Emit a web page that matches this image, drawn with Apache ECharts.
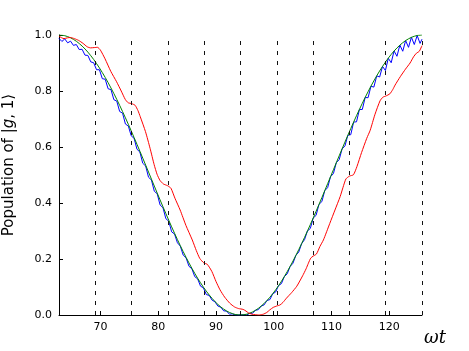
<!DOCTYPE html>
<html>
<head>
<meta charset="utf-8">
<script src="https://cdn.jsdelivr.net/npm/echarts@6/dist/echarts.min.js"></script>
<style>
  html, body { margin: 0; padding: 0; background: #fff; }
  #chart { width: 469px; height: 351px; }
</style>
</head>
<body>
<div id="chart"></div>
<script>
// x ticks and dashed marker positions
const xTicks = [70, 80, 90, 100, 110, 120];
const dashX = [69.115, 75.398, 81.681, 87.965, 94.248, 100.531, 106.814, 113.097, 119.381, 125.664];

// green curve (smooth)
const greenX = [62.83, 63.83, 64.83, 65.83, 66.83, 67.83, 68.83, 69.83, 70.83, 71.83,
  72.83, 73.83, 74.83, 75.83, 76.83, 77.83, 78.83, 79.83, 80.83, 81.83,
  82.83, 83.83, 84.83, 85.83, 86.83, 87.83, 88.83, 89.83, 90.83, 91.83,
  92.83, 93.83, 94.83, 95.83, 96.83, 97.83, 98.83, 99.83, 100.83, 101.83,
  102.83, 103.83, 104.83, 105.83, 106.83, 107.83, 108.83, 109.83, 110.83, 111.83,
  112.83, 113.83, 114.83, 115.83, 116.83, 117.83, 118.83, 119.83, 120.83, 121.83,
  122.83, 123.83, 124.83, 125.66];
const greenY = [1.000, 0.9975, 0.9900, 0.9777, 0.9605, 0.9388, 0.9127, 0.8824, 0.8484, 0.8108,
  0.7702, 0.7268, 0.6812, 0.6338, 0.5850, 0.5354, 0.4854, 0.4356, 0.3864, 0.3384,
  0.2919, 0.2476, 0.2058, 0.1669, 0.1313, 0.0994, 0.0716, 0.0480, 0.0289, 0.0145,
  0.0050, 0.0004, 0.0009, 0.0063, 0.0166, 0.0318, 0.0516, 0.0760, 0.1045, 0.1370,
  0.1732, 0.2126, 0.2549, 0.2996, 0.3463, 0.3946, 0.4439, 0.4938, 0.5438, 0.5933,
  0.6418, 0.6890, 0.7343, 0.7772, 0.8173, 0.8543, 0.8878, 0.9174, 0.9428, 0.9637,
  0.9801, 0.9916, 0.9983, 1.000];

// blue curve (fast wiggles)
const blueX = [62.83, 63.33, 63.83, 64.33, 64.83, 65.33, 65.83, 66.33, 66.83, 67.33,
  67.83, 68.33, 68.83, 69.33, 69.83, 70.33, 70.83, 71.33, 71.83, 72.33,
  72.83, 73.33, 73.83, 74.33, 74.83, 75.33, 75.83, 76.33, 76.83, 77.33,
  77.83, 78.33, 78.83, 79.33, 79.83, 80.33, 80.83, 81.33, 81.83, 82.33,
  82.83, 83.33, 83.83, 84.33, 84.83, 85.33, 85.83, 86.33, 86.83, 87.33,
  87.83, 88.33, 88.83, 89.33, 89.83, 90.33, 90.83, 91.33, 91.83, 92.33,
  92.83, 93.33, 93.83, 94.33, 94.83, 95.33, 95.83, 96.33, 96.83, 97.33,
  97.83, 98.33, 98.83, 99.33, 99.83, 100.33, 100.83, 101.33, 101.83, 102.33,
  102.83, 103.33, 103.83, 104.33, 104.83, 105.33, 105.83, 106.33, 106.83, 107.33,
  107.83, 108.33, 108.83, 109.33, 109.83, 110.33, 110.83, 111.33, 111.83, 112.33,
  112.83, 113.33, 113.83, 114.33, 114.83, 115.33, 115.83, 116.33, 116.83, 117.33,
  117.83, 118.33, 118.83, 119.33, 119.83, 120.33, 120.83, 121.33, 121.83, 122.33,
  122.83, 123.33, 123.83, 124.33, 124.83, 125.33, 125.66];
const blueY = [0.988, 0.977, 0.986, 0.972, 0.978, 0.963, 0.966, 0.948, 0.949, 0.928,
  0.927, 0.904, 0.901, 0.876, 0.876, 0.844, 0.842, 0.808, 0.805, 0.769,
  0.764, 0.727, 0.721, 0.682, 0.675, 0.640, 0.631, 0.592, 0.582, 0.542,
  0.532, 0.492, 0.482, 0.442, 0.433, 0.393, 0.383, 0.344, 0.335, 0.297,
  0.289, 0.258, 0.246, 0.214, 0.204, 0.174, 0.165, 0.137, 0.129, 0.103,
  0.097, 0.073, 0.070, 0.053, 0.047, 0.032, 0.028, 0.015, 0.014, 0.003,
  0.004, 0.000, 0.000, 0.000, 0.001, 0.000, 0.006, 0.006, 0.017, 0.019,
  0.032, 0.036, 0.052, 0.055, 0.076, 0.082, 0.105, 0.112, 0.137, 0.147,
  0.173, 0.185, 0.213, 0.225, 0.255, 0.269, 0.300, 0.309, 0.346, 0.356,
  0.395, 0.405, 0.444, 0.455, 0.494, 0.505, 0.544, 0.555, 0.593, 0.604,
  0.642, 0.644, 0.689, 0.690, 0.734, 0.734, 0.777, 0.776, 0.817, 0.814,
  0.854, 0.850, 0.888, 0.873, 0.917, 0.901, 0.943, 0.924, 0.964, 0.942,
  0.980, 0.956, 0.992, 0.966, 0.998, 0.970, 0.985];

// red curve (lagging, with plateaus)
const redX = [62.83, 63.3, 63.7, 64.3, 64.8, 65.5, 66.2, 67.0, 67.7, 68.3,
  68.9, 69.5, 70.0, 70.8, 71.8, 72.8, 73.6, 74.3, 74.8, 75.4,
  76.0, 76.5, 76.9, 77.8, 78.6, 79.3, 79.8, 80.3, 80.9, 81.6,
  82.2, 82.9, 83.8, 84.8, 85.9, 86.6, 87.2, 87.9, 88.5, 89.3,
  90.0, 90.7, 91.5, 92.4, 93.2, 93.9, 94.7, 95.2, 95.6, 96.2,
  96.8, 97.5, 98.2, 98.8, 99.3, 99.9, 100.5, 101.1, 101.6, 102.2,
  103.1, 104.0, 105.0, 105.6, 106.0, 106.4, 106.8, 107.4, 108.0, 108.6,
  109.7, 110.6, 111.5, 112.1, 112.5, 113.1, 113.8, 114.4, 115.2, 116.1,
  116.7, 117.5, 118.4, 118.9, 119.4, 120.1, 120.6, 121.0, 121.9, 122.8,
  123.6, 124.2, 124.7, 125.2, 125.66];
const redY = [0.996, 0.99, 0.987, 0.99, 0.991, 0.987, 0.981, 0.97, 0.958, 0.954,
  0.955, 0.956, 0.946, 0.915, 0.87, 0.833, 0.8, 0.77, 0.758, 0.755,
  0.749, 0.73, 0.708, 0.655, 0.595, 0.537, 0.503, 0.481, 0.468, 0.462,
  0.453, 0.417, 0.375, 0.32, 0.268, 0.23, 0.202, 0.186, 0.181, 0.155,
  0.12, 0.09, 0.064, 0.042, 0.029, 0.023, 0.02, 0.014, 0.008, 0.003,
  0.001, 0.0, 0.003, 0.009, 0.018, 0.027, 0.032, 0.036, 0.045, 0.06,
  0.08, 0.103, 0.14, 0.165, 0.185, 0.203, 0.21, 0.218, 0.245, 0.268,
  0.327, 0.375, 0.423, 0.463, 0.486, 0.496, 0.501, 0.53, 0.58, 0.631,
  0.66, 0.715, 0.765, 0.778, 0.782, 0.79, 0.805, 0.821, 0.851, 0.878,
  0.9, 0.922, 0.935, 0.942, 0.962];

function zip(xs, ys) {
  return xs.map((x, i) => [x, ys[i]]);
}

const chart = echarts.init(document.getElementById('chart'), null, { renderer: 'canvas' });

const lineBase = {
  type: 'line',
  showSymbol: false,
  symbol: 'none',
  silent: true,
  animation: false
};

chart.setOption({
  animation: false,
  backgroundColor: '#fff',
  textStyle: { fontFamily: 'DejaVu Sans' },
  grid: { left: 59, right: 47, top: 35, bottom: 36, containLabel: false, outerBoundsMode: 'none' },
  title: {
    text: 'ωt',
    left: 419,
    top: 324,
    textStyle: { fontFamily: 'DejaVu Serif', fontStyle: 'italic', fontWeight: 'normal', fontSize: 18, color: '#000' }
  },
  xAxis: {
    type: 'value',
    min: 62.832,
    max: 125.664,
    axisLine: { show: true, lineStyle: { color: '#000', width: 1 } },
    axisTick: { show: true, inside: true, length: 4, customValues: xTicks, lineStyle: { color: '#000' } },
    axisLabel: { customValues: xTicks, color: '#000', fontSize: 11, margin: 7, fontFamily: 'DejaVu Sans' },
    splitLine: { show: false }
  },
  yAxis: {
    type: 'value',
    min: 0,
    max: 1,
    interval: 0.2,
    name: '{a|Population of |}{i|g}{a|, 1⟩}',
    nameLocation: 'middle',
    nameGap: 42,
    nameRotate: 90,
    nameTextStyle: {
      padding: [0, 0, 0, 20],
      rich: {
        a: { fontFamily: 'DejaVu Sans', fontSize: 15, color: '#000' },
        i: { fontFamily: 'DejaVu Sans', fontStyle: 'italic', fontSize: 15, color: '#000' }
      }
    },
    axisLine: { show: true, lineStyle: { color: '#000', width: 1 } },
    axisTick: { show: true, inside: true, length: 4, lineStyle: { color: '#000' } },
    axisLabel: { color: '#000', fontSize: 11, margin: 7, fontFamily: 'DejaVu Sans', formatter: v => v.toFixed(1) },
    splitLine: { show: false }
  },
  series: [
    Object.assign({}, lineBase, {
      name: 'blue',
      data: zip(blueX, blueY),
      lineStyle: { color: '#0000ff', width: 1 },
      z: 2
    }),
    Object.assign({}, lineBase, {
      name: 'green',
      data: zip(greenX, greenY),
      smooth: 0.3,
      lineStyle: { color: '#008000', width: 1 },
      z: 3
    }),
    Object.assign({}, lineBase, {
      name: 'red',
      data: zip(redX, redY),
      smooth: 0.2,
      lineStyle: { color: '#ff0000', width: 1 },
      z: 4,
      markLine: {
        silent: true,
        symbol: ['none', 'none'],
        label: { show: false },
        animation: false,
        lineStyle: { color: '#111', width: 1, type: [4, 6] },
        data: dashX.map(v => ({ xAxis: v }))
      }
    })
  ]
});
</script>
</body>
</html>
